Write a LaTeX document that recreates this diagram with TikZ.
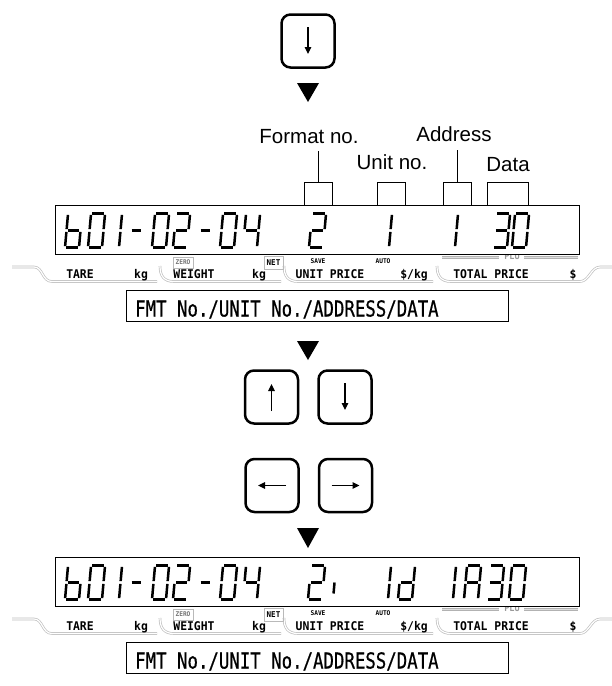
\documentclass[tikz,border=0pt]{standalone}
\usepackage{fontspec}
\setmainfont{Liberation Sans}
\newfontfamily\fmtfont[FakeStretch=0.79,FakeBold=0.6]{DejaVu Sans Mono}
\newfontfamily\lblfont[FakeStretch=0.95]{DejaVu Sans Mono}
\usetikzlibrary{arrows.meta}

% seven-segment geometry (local: y negative = up)
\def\segA{(1.4,-34)--(12.6,-34)}
\def\segB{(14,-32.6)--(14,-18.4)}
\def\segC{(14,-15.6)--(14,-1.4)}
\def\segD{(1.4,0)--(12.6,0)}
\def\segE{(0,-1.4)--(0,-15.6)}
\def\segF{(0,-18.4)--(0,-32.6)}
\def\segG{(1.4,-17)--(12.6,-17)}
\newcommand\segdigit[3]{%
  \begin{scope}[shift={(#1,#2)},xslant=0.09]
    \foreach \s in {#3}{\edef\segtmp{\noexpand\draw[segline] \csname seg\s\endcsname;}\segtmp}
  \end{scope}}
\newcommand\segdash[2]{%
  \begin{scope}[shift={(#1,#2)},xslant=0.09]
    \draw[segline] (1,-17) -- (10,-17);
  \end{scope}}
\newcommand\segcomma[2]{%
  \begin{scope}[shift={(#1,#2)},xslant=0.09]
    \draw[segline] (0,-6) -- (0,-17);
  \end{scope}}
\newcommand\bprefix[1]{%
  \segdigit{65}{#1}{C,D,E,F,G}
  \segdigit{88}{#1}{A,B,C,D,E,F}
  \segdigit{119}{#1}{E,F}
  \segdash{129}{#1}
  \segdigit{152}{#1}{A,B,C,D,E,F}
  \segdigit{173}{#1}{A,B,G,E,D}
  \segdash{198}{#1}
  \segdigit{220}{#1}{A,B,C,D,E,F}
  \segdigit{243}{#1}{F,G,B,C}}

\newcommand\lcdpanel[2]{%
  \begin{scope}[shift={(0,#2)}]
    \draw[band] (12,267) -- (34,267) .. controls (43,267) and (42,281.5) .. (52,281.5) -- (157,281.5);
    \draw[band] (160,266) .. controls (160,276) and (164,281.5) .. (174,281.5) -- (281,281.5);
    \draw[band] (284,266) .. controls (284,276) and (288,281.5) .. (298,281.5) -- (433,281.5);
    \draw[band] (437,266) .. controls (437,276) and (441,281.5) .. (451,281.5) -- (580,281.5)
      .. controls (589,281.5) and (591,267) .. (600,267) -- (612,267);
    \draw[pluband] (442,257.5) -- (499,257.5);
    \draw[pluband] (524,257.5) -- (578,257.5);
    \node[lbl, font=\lblfont\bfseries\fontsize{9}{9}\selectfont, text=gray!80] (#1plu) at (512,256.5) {PLU};
    \node[lcd] (#1lcd) at (317.5,230) {};
    \node[lbl, anchor=base] (#1tare) at (80,278.5) {TARE};
    \node[lbl, anchor=base] (#1kga) at (141,278.5) {kg};
    \node[lbl, anchor=base] (#1weight) at (194,278.5) {WEIGHT};
    \node[lbl, anchor=base] (#1kgb) at (259,278.5) {kg};
    \node[lbl, anchor=base] (#1unitp) at (330,278.5) {UNIT PRICE};
    \node[lbl, anchor=base] (#1perkg) at (414,278.5) {\$/kg};
    \node[lbl, anchor=base] (#1totalp) at (491,278.5) {TOTAL PRICE};
    \node[lbl, anchor=base] (#1dollar) at (573,278.5) {\$};
    \node[tagbox, minimum width=20pt, minimum height=11pt] (#1zero) at (183,262.5) {ZERO};
    \node[tagbox, minimum width=19pt, minimum height=13pt, font=\lblfont\bfseries\fontsize{8}{8}\selectfont, text=black] (#1net) at (273.5,262.5) {NET};
    \node[tinylbl, anchor=base] (#1save) at (318,263) {SAVE};
    \node[tinylbl, anchor=base] (#1auto) at (383,263) {AUTO};
    \node[msgbox] (#1msg) at (317.5,306) {};
    \node[msgtext, anchor=base west] (#1msgtext) at (135,316.5) {FMT No./UNIT No./ADDRESS/DATA};
  \end{scope}}

\begin{document}
\begin{tikzpicture}[x=1pt,y=-1pt,
  keybox/.style={draw, line width=2.5pt, rounded corners=9pt, minimum width=53pt, minimum height=53pt, inner sep=0pt},
  keyarrow/.style={line width=1.1pt, -{Triangle[length=7pt,width=6.5pt]}},
  ann/.style={font=\fontsize{20.5}{24}\selectfont, inner sep=0pt},
  lcd/.style={draw, line width=1.8pt, fill=white, minimum width=524pt, minimum height=49pt, inner sep=0pt},
  fieldbox/.style={draw, line width=1.2pt, minimum height=23pt, inner sep=0pt},
  leader/.style={line width=1.1pt},
  band/.style={draw=gray!50, double=white, double distance=1.2pt, line width=0.7pt},
  pluband/.style={draw=gray!60, double=gray!25, double distance=1.2pt, line width=0.8pt},
  lbl/.style={font=\lblfont\bfseries\fontsize{12}{12}\selectfont, inner sep=0pt},
  tinylbl/.style={font=\lblfont\bfseries\fontsize{6.5}{6.5}\selectfont, inner sep=0pt},
  tagbox/.style={draw=gray!55, line width=0.8pt, inner sep=0pt, font=\lblfont\bfseries\fontsize{6.5}{6.5}\selectfont, text=gray!90!black},
  msgbox/.style={draw, line width=1.4pt, minimum width=382pt, minimum height=31pt, inner sep=0pt},
  msgtext/.style={font=\fmtfont\fontsize{22}{22}\selectfont, inner sep=0pt},
  segline/.style={line width=2.5pt},
  flowtri/.style={fill=black}]
\useasboundingbox (0,0) rectangle (612,686);

% top key
\node[keybox] (kdown0) at (308,41) {};
\draw[keyarrow] ([yshift=14pt]kdown0.center) -- ([yshift=-13pt]kdown0.center);
\fill[flowtri] (297,83) -- (319,83) -- (308,102) -- cycle;

% annotation labels
\node[ann, anchor=base] (fmtlbl) at (309,143) {Format no.};
\node[ann, anchor=base] (addrlbl) at (454,141) {Address};
\node[ann, anchor=base] (unitlbl) at (392,169) {Unit no.};
\node[ann, anchor=base] (datalbl) at (508,171) {Data};

% panels
\lcdpanel{a}{0}
\lcdpanel{b}{352}

% field boxes
\node[fieldbox, minimum width=28pt] (fbox1) at (318.5,194) {};
\node[fieldbox, minimum width=28pt] (fbox2) at (391.5,194) {};
\node[fieldbox, minimum width=28pt] (fbox3) at (457.5,194) {};
\node[fieldbox, minimum width=41pt] (fbox4) at (508,194) {};
\draw[leader] (fbox1.north) -- ([yshift=-8pt]fbox1.north |- fmtlbl.south);
\draw[leader] (fbox3.north) -- ([yshift=-9pt]fbox3.north |- addrlbl.south);

% digits panel 1
\bprefix{247.5}
\segdigit{309}{247.5}{A,B,G,E,D}
\segdigit{389}{247.5}{E,F}
\segdigit{455}{247.5}{E,F}
\segdigit{493}{247.5}{A,B,G,C,D}
\segdigit{512}{247.5}{A,B,C,D,E,F}

% digits panel 2
\bprefix{599.5}
\segdigit{308}{599.5}{A,B,G,E,D}
\segcomma{333}{599.5}
\segdigit{388}{599.5}{E,F}
\segdigit{398}{599.5}{B,C,D,E,G}
\segdigit{453}{599.5}{E,F}
\segdigit{464}{599.5}{A,B,C,E,F,G}
\segdigit{487}{599.5}{A,B,G,C,D}
\segdigit{509}{599.5}{A,B,C,D,E,F}

% flow: up/down keys
\fill[flowtri] (297,341) -- (319,341) -- (308,360) -- cycle;
\node[keybox] (kup) at (271.5,397) {};
\node[keybox] (kdown) at (345,397) {};
\draw[keyarrow] ([yshift=-14pt]kup.center) -- ([yshift=13pt]kup.center);
\draw[keyarrow] ([yshift=14pt]kdown.center) -- ([yshift=-13pt]kdown.center);

% left/right keys
\node[keybox] (kleft) at (272,485.5) {};
\node[keybox] (kright) at (345.5,485.5) {};
\draw[keyarrow] ([xshift=14pt]kleft.center) -- ([xshift=-14pt]kleft.center);
\draw[keyarrow] ([xshift=-14pt]kright.center) -- ([xshift=14pt]kright.center);
\fill[flowtri] (297,528) -- (319,528) -- (308,548) -- cycle;
\end{tikzpicture}
\end{document}
